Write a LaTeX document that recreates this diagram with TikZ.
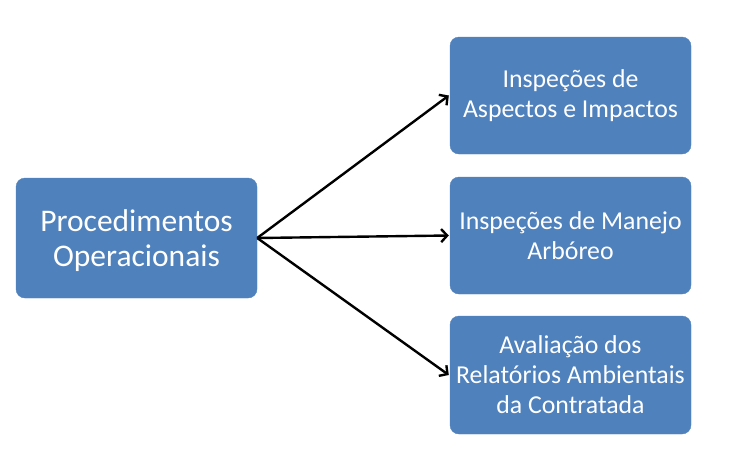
\documentclass[tikz,border=0pt]{standalone}
\usepackage{fontspec}
\setmainfont{Carlito}
\usetikzlibrary{arrows.meta}
\definecolor{boxblue}{HTML}{4F81BD}
\tikzset{
  box/.style={draw=boxblue, fill=boxblue, rounded corners=9pt, text=white, align=center, inner sep=0pt},
  bigtext/.style={font=\fontsize{31.5}{35}\selectfont},
  smalltext/.style={font=\fontsize{25.8}{30}\selectfont},
  conn/.style={line width=2.4pt, -{Straight Barb[length=6pt, width=13pt, line width=2.4pt]}}
}
\begin{document}
\begin{tikzpicture}[x=1pt, y=-1pt]
\useasboundingbox (0,0) rectangle (749,461);
\node[box, minimum width=241pt, minimum height=120pt] (L) at (136.5,238) {};
\node[bigtext, text=white, align=center, inner sep=0pt] (Ltext) at (136.5,241) {Procedimentos\\Operacionais};
\node[box, smalltext, minimum width=241pt, minimum height=117pt] (T) at (570.5,95.5) {Inspeções de\\Aspectos e Impactos};
\node[box, smalltext, minimum width=241pt, minimum height=117pt] (M) at (570.5,235.5) {Inspeções de Manejo\\Arbóreo};
\node[box, smalltext, minimum width=241pt, minimum height=118pt] (B) at (570.5,375) {Avaliação dos\\Relatórios Ambientais\\da Contratada};
\draw[conn] (L.east) -- ([xshift=-1pt]T.west);
\draw[conn] (L.east) -- ([xshift=-1pt]M.west);
\draw[conn] (L.east) -- ([xshift=-1pt]B.west);
\end{tikzpicture}
\end{document}
